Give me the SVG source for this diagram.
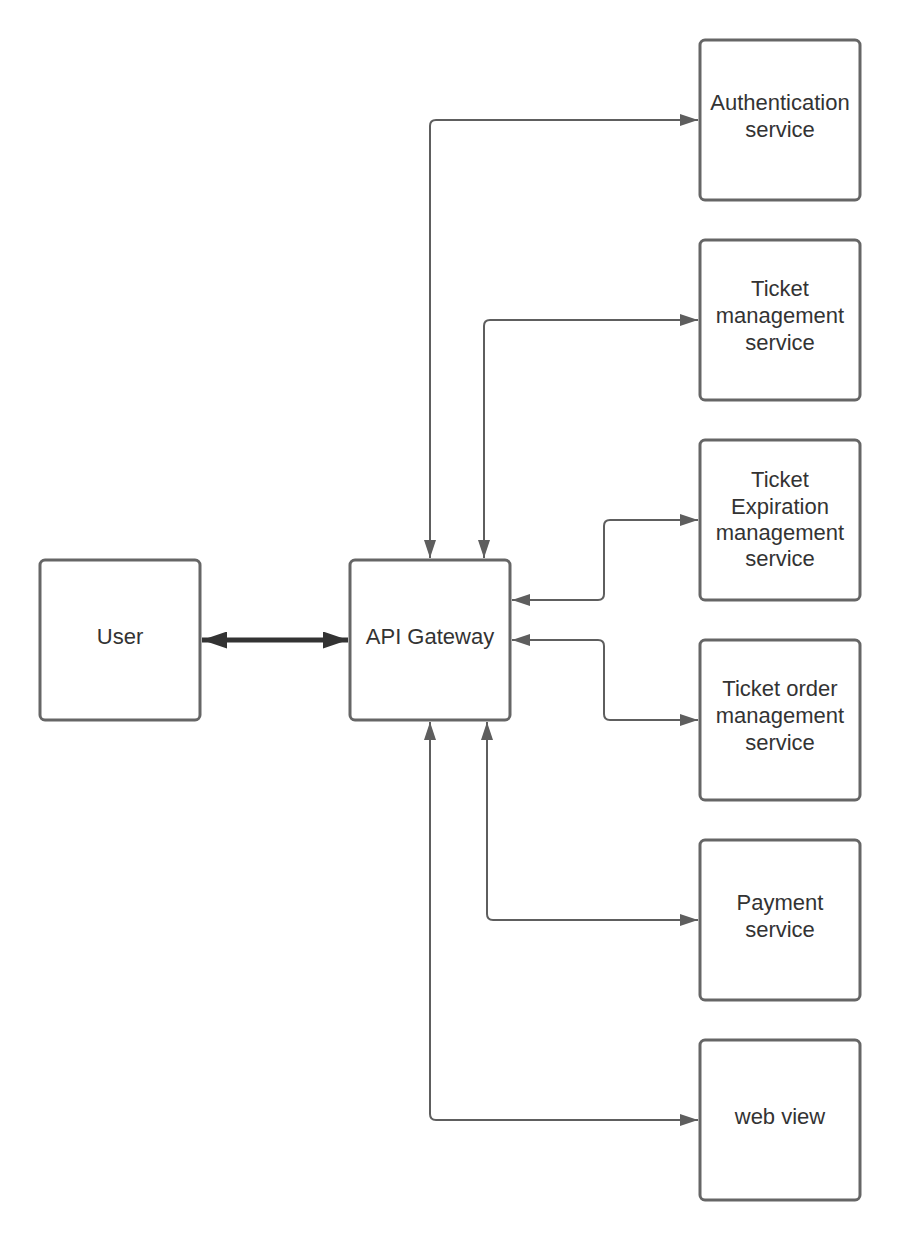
<svg xmlns="http://www.w3.org/2000/svg" width="900" height="1240" viewBox="0 0 900 1240">
<style>
.box{fill:#fff;stroke:#666;stroke-width:3}
.t{font-family:"Liberation Sans",Arial,sans-serif;font-size:22px;fill:#333;text-anchor:middle}
.c{fill:none;stroke:#5e5e5e;stroke-width:2;stroke-linejoin:round}
</style>
<defs>
<marker id="ah" viewBox="0 0 25 17" refX="25" refY="8.5" markerWidth="25" markerHeight="17" markerUnits="userSpaceOnUse" orient="auto-start-reverse"><path d="M0,0L25,8.5L0,17z" fill="#333"/></marker>
<marker id="as" viewBox="0 0 18 12" refX="18" refY="6" markerWidth="18" markerHeight="12" markerUnits="userSpaceOnUse" orient="auto-start-reverse"><path d="M0,0L18,6L0,12z" fill="#5e5e5e"/></marker>
</defs>
<g id="connectors">
<path class="c" d="M430,558 V126 Q430,120 436,120 H698" marker-start="url(#as)" marker-end="url(#as)"/>
<path class="c" d="M484,558 V326 Q484,320 490,320 H698" marker-start="url(#as)" marker-end="url(#as)"/>
<path class="c" d="M512,600 H598 Q604,600 604,594 V526 Q604,520 610,520 H698" marker-start="url(#as)" marker-end="url(#as)"/>
<path class="c" d="M512,640 H598 Q604,640 604,646 V714 Q604,720 610,720 H698" marker-start="url(#as)" marker-end="url(#as)"/>
<path class="c" d="M487,722 V914 Q487,920 493,920 H698" marker-start="url(#as)" marker-end="url(#as)"/>
<path class="c" d="M430,722 V1114 Q430,1120 436,1120 H698" marker-start="url(#as)" marker-end="url(#as)"/>
<path d="M202,640 H348" fill="none" stroke="#333" stroke-width="5" marker-start="url(#ah)" marker-end="url(#ah)"/>
</g>
<g id="user"><rect class="box" x="40" y="560" width="160" height="160" rx="5"/><text class="t" x="120" y="644">User</text></g>
<g id="gateway"><rect class="box" x="350" y="560" width="160" height="160" rx="5"/><text class="t" x="430" y="644">API Gateway</text></g>
<g id="auth"><rect class="box" x="700" y="40" width="160" height="160" rx="5"/><text class="t" x="780" y="110">Authentication</text><text class="t" x="780" y="137">service</text></g>
<g id="ticket"><rect class="box" x="700" y="240" width="160" height="160" rx="5"/><text class="t" x="780" y="296">Ticket</text><text class="t" x="780" y="323">management</text><text class="t" x="780" y="350">service</text></g>
<g id="expiration"><rect class="box" x="700" y="440" width="160" height="160" rx="5"/><text class="t" x="780" y="487">Ticket</text><text class="t" x="780" y="514">Expiration</text><text class="t" x="780" y="540">management</text><text class="t" x="780" y="566">service</text></g>
<g id="order"><rect class="box" x="700" y="640" width="160" height="160" rx="5"/><text class="t" x="780" y="696">Ticket order</text><text class="t" x="780" y="723">management</text><text class="t" x="780" y="750">service</text></g>
<g id="payment"><rect class="box" x="700" y="840" width="160" height="160" rx="5"/><text class="t" x="780" y="910">Payment</text><text class="t" x="780" y="937">service</text></g>
<g id="webview"><rect class="box" x="700" y="1040" width="160" height="160" rx="5"/><text class="t" x="780" y="1124">web view</text></g>
</svg>
